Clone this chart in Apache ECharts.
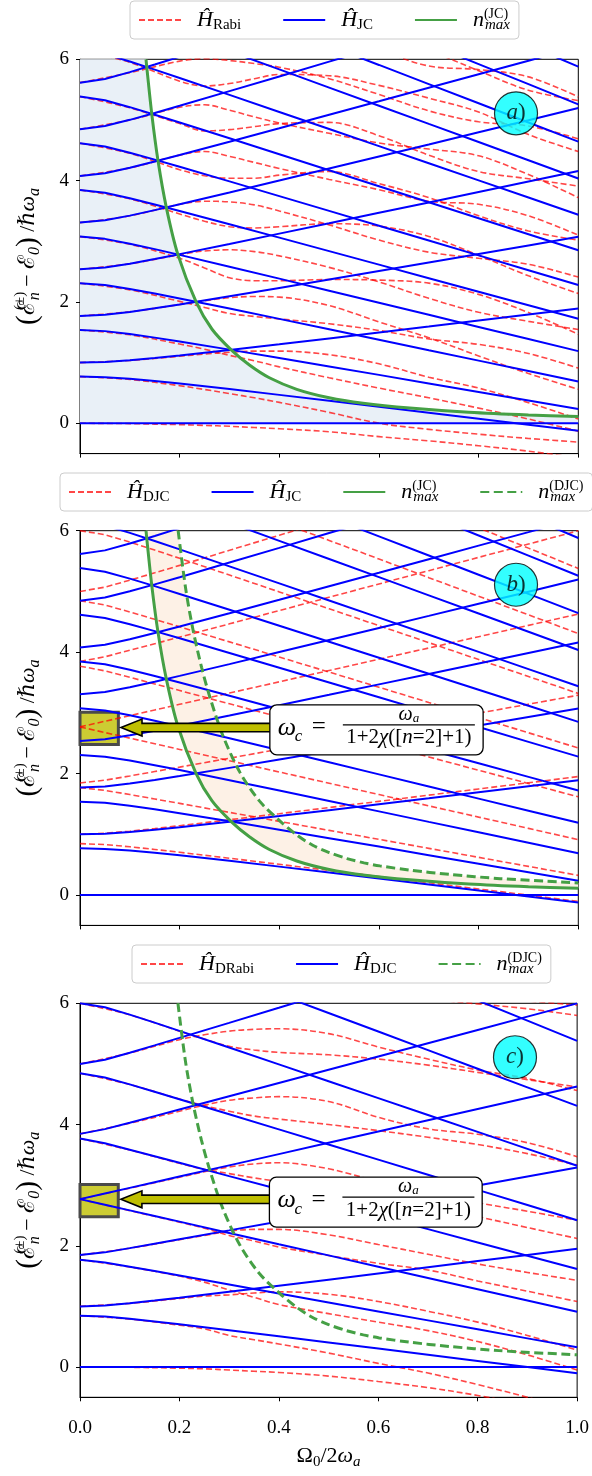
<!DOCTYPE html>
<html>
<head>
<meta charset="utf-8">
<title>Energy spectra</title>
<script src="https://cdn.jsdelivr.net/npm/echarts@6.0.0/dist/echarts.min.js"></script>
<style>
  html, body { margin: 0; padding: 0; background: #ffffff; }
  #chart { width: 592px; height: 1476px; }
</style>
</head>
<body>
<div id="chart"></div>
<script>
// Coupling values (Ω0 / 2ωa) at which the JC-type levels are sampled
const X_GRID = [0, 0.05, 0.1, 0.15, 0.2, 0.3, 0.4, 0.5, 0.6, 0.7, 0.8, 0.9, 1.0];

// Jaynes–Cummings doublets (panels a and b)
const JC_GROUND  = [0, 0, 0, 0, 0, 0, 0, 0, 0, 0, 0, 0, 0];
const JC_PLUS_1  = [1.000, 1.010, 1.037, 1.074, 1.116, 1.206, 1.301, 1.398, 1.496, 1.594, 1.693, 1.792, 1.891];
const JC_MINUS_1 = [0.769, 0.759, 0.732, 0.695, 0.654, 0.563, 0.468, 0.372, 0.274, 0.175, 0.076, -0.023, -0.122];
const JC_PLUS_2  = [1.769, 1.789, 1.836, 1.895, 1.959, 2.094, 2.231, 2.370, 2.510, 2.651, 2.791, 2.932, 3.073];
const JC_MINUS_2 = [1.538, 1.519, 1.471, 1.412, 1.348, 1.214, 1.077, 0.937, 0.798, 0.657, 0.517, 0.376, 0.235];
const JC_PLUS_3  = [2.538, 2.567, 2.631, 2.707, 2.788, 2.955, 3.126, 3.297, 3.469, 3.641, 3.814, 3.986, 4.159];
const JC_MINUS_3 = [2.308, 2.279, 2.215, 2.139, 2.058, 1.891, 1.721, 1.549, 1.378, 1.205, 1.033, 0.860, 0.687];
const JC_PLUS_4  = [3.308, 3.345, 3.423, 3.514, 3.609, 3.803, 4.001, 4.199, 4.398, 4.597, 4.797, 4.996, 5.196];
const JC_MINUS_4 = [3.077, 3.040, 2.961, 2.871, 2.776, 2.581, 2.384, 2.186, 1.987, 1.788, 1.588, 1.389, 1.189];
const JC_PLUS_5  = [4.077, 4.122, 4.213, 4.316, 4.423, 4.642, 4.863, 5.086, 5.308, 5.531, 5.754, 5.977, 6.201];
const JC_MINUS_5 = [3.846, 3.801, 3.710, 3.607, 3.500, 3.281, 3.060, 2.838, 2.615, 2.392, 2.169, 1.946, 1.723];
const JC_PLUS_6  = [4.846, 4.899, 5.002, 5.116, 5.234, 5.475, 5.717, 5.961, 6.205, 6.449, 6.694, 6.938, 7.183];
const JC_MINUS_6 = [4.615, 4.563, 4.460, 4.346, 4.228, 3.987, 3.744, 3.501, 3.257, 3.012, 2.768, 2.523, 2.279];
const JC_PLUS_7  = [5.615, 5.676, 5.789, 5.913, 6.042, 6.302, 6.565, 6.828, 7.092, 7.356, 7.620, 7.884, 8.148];
const JC_MINUS_7 = [5.385, 5.325, 5.211, 5.087, 4.958, 4.698, 4.435, 4.172, 3.908, 3.644, 3.380, 3.116, 2.852];
const JC_MINUS_8 = [6.154, 6.087, 5.964, 5.830, 5.692, 5.413, 5.132, 4.850, 4.568, 4.286, 4.004, 3.721, 3.438];
const JC_MINUS_9 = [6.923, 6.849, 6.717, 6.574, 6.428, 6.131, 5.833, 5.534, 5.235, 4.935, 4.636, 4.336, 4.036];
const JC_MINUS_10 = [7.692, 7.612, 7.471, 7.320, 7.165, 6.852, 6.538, 6.222, 5.907, 5.591, 5.275, 4.959, 4.643];
const JC_MINUS_11 = [8.462, 8.375, 8.226, 8.066, 7.904, 7.575, 7.245, 6.915, 6.584, 6.252, 5.921, 5.590, 5.258];
const JC_MINUS_12 = [9.231, 9.138, 8.981, 8.814, 8.644, 8.301, 7.956, 7.610, 7.265, 6.919, 6.573, 6.226, 5.880];

// Deformed Jaynes–Cummings doublets (red in panel b, blue in panel c)
const DJC_GROUND  = [0, 0, 0, 0, 0, 0, 0, 0, 0, 0, 0, 0, 0];
const DJC_PLUS_1  = [1.000, 1.016, 1.051, 1.095, 1.142, 1.240, 1.340, 1.441, 1.543, 1.645, 1.747, 1.849, 1.951];
const DJC_MINUS_1 = [0.846, 0.831, 0.795, 0.751, 0.704, 0.606, 0.506, 0.405, 0.304, 0.202, 0.100, -0.002, -0.105];
const DJC_PLUS_2  = [1.846, 1.891, 1.961, 2.034, 2.107, 2.254, 2.402, 2.550, 2.699, 2.847, 2.995, 3.143, 3.291];
const DJC_MINUS_2 = [1.769, 1.724, 1.655, 1.582, 1.509, 1.361, 1.213, 1.065, 0.917, 0.769, 0.621, 0.472, 0.324];
const DJC_PLUS_3  = [2.769, 2.862, 2.955, 3.048, 3.141, 3.326, 3.512, 3.698, 3.884, 4.069, 4.255, 4.441, 4.627];
const DJC_MINUS_3 = [2.769, 2.676, 2.584, 2.491, 2.398, 2.212, 2.026, 1.841, 1.655, 1.469, 1.283, 1.098, 0.912];
const DJC_PLUS_4  = [3.846, 3.924, 4.030, 4.139, 4.248, 4.466, 4.685, 4.904, 5.123, 5.342, 5.561, 5.780, 5.999];
const DJC_MINUS_4 = [3.769, 3.692, 3.585, 3.477, 3.368, 3.149, 2.931, 2.712, 2.493, 2.274, 2.055, 1.836, 1.617];
const DJC_PLUS_5  = [5.000, 5.070, 5.185, 5.306, 5.429, 5.677, 5.926, 6.176, 6.425, 6.675, 6.925, 7.174, 7.424];
const DJC_MINUS_5 = [4.846, 4.776, 4.662, 4.540, 4.417, 4.169, 3.920, 3.671, 3.421, 3.171, 2.922, 2.672, 2.422];
const DJC_MINUS_6 = [6.000, 5.934, 5.813, 5.681, 5.545, 5.270, 4.992, 4.714, 4.436, 4.157, 3.878, 3.599, 3.320];
const DJC_MINUS_7 = [7.231, 7.167, 7.041, 6.899, 6.751, 6.450, 6.145, 5.840, 5.534, 5.227, 4.921, 4.614, 4.307];
const DJC_MINUS_8 = [8.539, 8.476, 8.345, 8.193, 8.034, 7.709, 7.378, 7.047, 6.714, 6.380, 6.047, 5.713, 5.379];

// Coupling values at which the Rabi-type levels are sampled
const RABI_X = [0, 0.1, 0.2, 0.25, 0.3, 0.35, 0.4, 0.5, 0.6, 0.7, 0.8, 0.9, 1.0];

// Quantum Rabi levels (panel a)
const RABI_G  = [0, -0.006, -0.023, -0.035, -0.05, -0.07, -0.09, -0.14, -0.22, -0.29, -0.37, -0.46, -0.57];
const RABI_1M = [0.769, 0.722, 0.619, 0.557, 0.49, 0.42, 0.344, 0.18, 0.0, -0.10, -0.18, -0.25, -0.31];
const RABI_1P = [1.0, 1.036, 1.105, 1.14, 1.17, 1.19, 1.19, 1.13, 0.98, 0.76, 0.58, 0.34, 0.07];
const RABI_2M = [1.538, 1.458, 1.306, 1.22, 1.12, 1.03, 0.93, 0.75, 0.58, 0.42, 0.25, 0.07, -0.13];
const RABI_2P = [1.769, 1.838, 1.957, 2.02, 2.07, 2.09, 2.08, 1.94, 1.67, 1.41, 1.11, 0.82, 0.56];
const RABI_3M = [2.308, 2.199, 2.009, 1.91, 1.81, 1.76, 1.72, 1.64, 1.53, 1.39, 1.30, 1.15, 0.91];
const RABI_3P = [2.538, 2.63, 2.78, 2.84, 2.86, 2.83, 2.76, 2.57, 2.33, 2.06, 1.83, 1.68, 1.545];
const RABI_4M = [3.077, 2.95, 2.72, 2.56, 2.40, 2.35, 2.35, 2.37, 2.36, 2.31, 2.125, 1.825, 1.469];
const RABI_4P = [3.308, 3.42, 3.61, 3.66, 3.65, 3.60, 3.50, 3.27, 3.02, 2.82, 2.72, 2.62, 2.41];
const RABI_5M = [3.846, 3.70, 3.45, 3.33, 3.24, 3.22, 3.24, 3.29, 3.25, 3.08, 2.77, 2.43, 2.14];
const RABI_5P = [4.077, 4.21, 4.42, 4.48, 4.40, 4.30, 4.20, 4.02, 3.85, 3.66, 3.61, 3.42, 3.10];
const RABI_6M = [4.615, 4.45, 4.18, 4.08, 4.04, 4.04, 4.09, 4.15, 3.95, 3.72, 3.42, 3.17, 3.02];
const RABI_6P = [4.846, 5.00, 5.21, 5.25, 5.16, 5.05, 4.95, 4.78, 4.62, 4.52, 4.41, 4.10, 3.72];
const RABI_7M = [5.385, 5.20, 4.94, 4.82, 4.84, 4.89, 4.94, 4.96, 4.74, 4.42, 4.15, 4.03, 3.91];
const RABI_7P = [5.615, 5.78, 5.97, 6.01, 5.98, 5.93, 5.87, 5.68, 5.42, 5.15, 4.97, 4.90, 4.69];
const RABI_8M = [6.154, 5.95, 5.64, 5.56, 5.60, 5.68, 5.75, 5.73, 5.57, 5.36, 5.13, 4.76, 4.48];
const RABI_8P = [6.38, 6.6, 6.9, 7.0, 7.0, 6.95, 6.85, 6.6, 6.35, 6.14, 5.81, 5.49, 5.32];
const RABI_9M = [6.92, 6.72, 6.45, 6.4, 6.5, 6.55, 6.55, 6.4, 6.15, 5.89, 5.83, 5.71, 5.38];

// Deformed Rabi levels (panel c)
const DRABI_G  = [0, -0.005, -0.02, -0.03, -0.05, -0.07, -0.09, -0.15, -0.24, -0.34, -0.47, -0.63, -0.80];
const DRABI_1M = [0.846, 0.79, 0.69, 0.63, 0.52, 0.45, 0.38, 0.23, 0.06, -0.10, -0.29, -0.50, -0.72];
const DRABI_1P = [1.0, 1.05, 1.13, 1.17, 1.19, 1.22, 1.24, 1.20, 1.08, 0.92, 0.74, 0.52, 0.28];
const DRABI_2M = [1.769, 1.65, 1.50, 1.40, 1.27, 1.15, 1.03, 0.88, 0.74, 0.60, 0.42, 0.20, -0.05];
const DRABI_2P = [1.846, 1.96, 2.10, 2.17, 2.24, 2.27, 2.27, 2.18, 2.02, 1.86, 1.70, 1.56, 1.43];
const DRABI_3M = [2.769, 2.58, 2.39, 2.29, 2.17, 2.08, 1.98, 1.84, 1.71, 1.60, 1.42, 1.25, 1.08];
const DRABI_3P = [2.769, 2.95, 3.13, 3.22, 3.30, 3.35, 3.37, 3.27, 3.06, 2.88, 2.71, 2.57, 2.42];
const DRABI_4M = [3.769, 3.58, 3.36, 3.26, 3.19, 3.12, 3.06, 2.93, 2.78, 2.65, 2.48, 2.30, 2.12];
const DRABI_4P = [3.846, 4.02, 4.22, 4.32, 4.40, 4.44, 4.46, 4.38, 4.12, 3.93, 3.84, 3.70, 3.47];
const DRABI_5M = [4.846, 4.66, 4.42, 4.31, 4.22, 4.14, 4.09, 4.00, 3.90, 3.79, 3.67, 3.52, 3.33];
const DRABI_5P = [5.0, 5.18, 5.40, 5.48, 5.54, 5.57, 5.58, 5.50, 5.28, 5.08, 4.90, 4.76, 4.56];
const DRABI_6M = [6.0, 5.81, 5.54, 5.41, 5.29, 5.23, 5.19, 5.15, 5.08, 4.98, 4.86, 4.74, 4.62];
const DRABI_7M = [7.23, 7.04, 6.75, 6.6, 6.45, 6.35, 6.28, 6.2, 6.14, 6.07, 5.99, 5.91, 5.80];
const DRABI_8M = [8.54, 8.3, 8.0, 7.85, 7.7, 7.5, 7.35, 7.05, 6.7, 6.38, 6.14, 6.04, 5.97];

// Photon-number bound curves
const NMAX_JC_X  = [0.1325, 0.134, 0.144, 0.1565, 0.1732, 0.1965, 0.233, 0.265, 0.3035, 0.34, 0.38, 0.435, 0.5, 0.568, 0.662, 0.78, 0.9, 1.0];
const NMAX_JC_Y  = [6.0, 5.87, 5.10, 4.33, 3.56, 2.78, 2.00, 1.55, 1.21, 0.96, 0.75, 0.56, 0.42, 0.33, 0.25, 0.18, 0.135, 0.11];
const NMAX_DJC_X = [0.197, 0.212, 0.227, 0.244, 0.261, 0.287, 0.321, 0.36, 0.401, 0.435, 0.467, 0.5, 0.536, 0.57, 0.602, 0.662, 0.742, 0.843, 1.0];
const NMAX_DJC_Y = [6.0, 5.05, 4.36, 3.75, 3.25, 2.62, 2.02, 1.55, 1.22, 0.99, 0.82, 0.70, 0.60, 0.53, 0.48, 0.41, 0.34, 0.27, 0.20];

// Annotation anchors (data coordinates)
const BOX_X = [0, 0.077];
const BOX_Y = [2.48, 3.01];
const ARROW_TIP_B = [0.0823, 2.758];
const ARROW_TIP_C = [0.0823, 2.766];
const NOTE_X = [0.381, 0.809];
const NOTE_Y = 2.72;
const TAG_POS = [0.875, 5.11];
const TAGS = ['a', 'b', 'c'];

const JC_LINES = [JC_GROUND, JC_PLUS_1, JC_MINUS_1, JC_PLUS_2, JC_MINUS_2, JC_PLUS_3, JC_MINUS_3,
  JC_PLUS_4, JC_MINUS_4, JC_PLUS_5, JC_MINUS_5, JC_PLUS_6, JC_MINUS_6, JC_PLUS_7, JC_MINUS_7,
  JC_MINUS_8, JC_MINUS_9, JC_MINUS_10, JC_MINUS_11, JC_MINUS_12];
const DJC_LINES = [DJC_GROUND, DJC_PLUS_1, DJC_MINUS_1, DJC_PLUS_2, DJC_MINUS_2, DJC_PLUS_3, DJC_MINUS_3,
  DJC_PLUS_4, DJC_MINUS_4, DJC_PLUS_5, DJC_MINUS_5, DJC_MINUS_6, DJC_MINUS_7, DJC_MINUS_8];
const RABI_LINES = [RABI_G, RABI_1M, RABI_1P, RABI_2M, RABI_2P, RABI_3M, RABI_3P, RABI_4M, RABI_4P,
  RABI_5M, RABI_5P, RABI_6M, RABI_6P, RABI_7M, RABI_7P, RABI_8M, RABI_8P, RABI_9M];
const DRABI_LINES = [DRABI_G, DRABI_1M, DRABI_1P, DRABI_2M, DRABI_2P, DRABI_3M, DRABI_3P, DRABI_4M,
  DRABI_4P, DRABI_5M, DRABI_5P, DRABI_6M, DRABI_7M, DRABI_8M];

const SERIF = "'Liberation Serif', 'DejaVu Serif', serif";
const BLUE = '#0000ff';
const RED = 'rgba(255, 0, 0, 0.72)';
const GREEN = '#45a045';

const BLUE_STYLE = { color: BLUE, width: 2 };
const RED_STYLE = { color: RED, width: 1.6, type: [6, 3] };
const GREEN_STYLE = { color: GREEN, width: 3 };
const GREEN_DASH = { color: GREEN, width: 3, type: [9, 4.5] };

function pairs(xs, ys) { return xs.map((x, i) => [x, ys[i]]); }

function curve(name, g, xs, ys, lineStyle, z, smooth) {
  return {
    type: 'line', name, xAxisIndex: g, yAxisIndex: g,
    data: pairs(xs, ys), symbol: 'none', showSymbol: false,
    smooth: smooth || false, clip: true,
    lineStyle, itemStyle: { color: lineStyle.color }, z, silent: true, animation: false
  };
}

const series = [];

// panel a: shaded region below the JC bound
series.push({
  type: 'custom', xAxisIndex: 0, yAxisIndex: 0, data: [[0, 0]], z: 1, silent: true,
  renderItem(params, api) {
    const pts = [api.coord([0, 0]), api.coord([0, 6])];
    NMAX_JC_X.forEach((x, i) => pts.push(api.coord([x, NMAX_JC_Y[i]])));
    pts.push(api.coord([1, 0]));
    return { type: 'polygon', shape: { points: pts }, style: { fill: '#e9f0f7' } };
  }
});
// panel b: band between the two bounds
series.push({
  type: 'custom', xAxisIndex: 1, yAxisIndex: 1, data: [[0, 0]], z: 1, silent: true,
  renderItem(params, api) {
    const pts = [];
    NMAX_JC_X.forEach((x, i) => pts.push(api.coord([x, NMAX_JC_Y[i]])));
    for (let i = NMAX_DJC_X.length - 1; i >= 0; i--) pts.push(api.coord([NMAX_DJC_X[i], NMAX_DJC_Y[i]]));
    return { type: 'polygon', shape: { points: pts }, style: { fill: '#fdf1e6' } };
  }
});

// resonance marker boxes (b, c)
[1, 2].forEach(g => series.push({
  type: 'line', name: 'marker' + g, xAxisIndex: g, yAxisIndex: g, data: [], z: 1, silent: true,
  markArea: {
    silent: true,
    itemStyle: { color: 'rgba(191,191,0,0.8)', borderColor: '#4a4a4a', borderWidth: 3 },
    data: [[{ xAxis: BOX_X[0], yAxis: BOX_Y[0] }, { xAxis: BOX_X[1], yAxis: BOX_Y[1] }]]
  }
}));

// red dashed families
RABI_LINES.forEach(ys => series.push(curve('a_rabi', 0, RABI_X, ys, RED_STYLE, 2, 0.35)));
DJC_LINES.forEach(ys => series.push(curve('b_djc', 1, X_GRID, ys, RED_STYLE, 2)));
DRABI_LINES.forEach(ys => series.push(curve('c_drabi', 2, RABI_X, ys, RED_STYLE, 2, 0.35)));

// blue families
JC_LINES.forEach(ys => {
  series.push(curve('ab_jc', 0, X_GRID, ys, BLUE_STYLE, 3));
  series.push(curve('ab_jc', 1, X_GRID, ys, BLUE_STYLE, 3));
});
DJC_LINES.forEach(ys => series.push(curve('c_djc', 2, X_GRID, ys, BLUE_STYLE, 3)));

// bounds
series.push(curve('nmax_jc', 0, NMAX_JC_X, NMAX_JC_Y, GREEN_STYLE, 4, 0.3));
series.push(curve('nmax_jc', 1, NMAX_JC_X, NMAX_JC_Y, GREEN_STYLE, 4, 0.3));
series.push(curve('nmax_djc', 1, NMAX_DJC_X, NMAX_DJC_Y, GREEN_DASH, 4, 0.3));
series.push(curve('nmax_djc', 2, NMAX_DJC_X, NMAX_DJC_Y, GREEN_DASH, 4, 0.3));

// panel tags
TAGS.forEach((t, g) => series.push({
  type: 'scatter', name: 'tag' + g, xAxisIndex: g, yAxisIndex: g, data: [TAG_POS],
  symbol: 'circle', symbolSize: 43, z: 6, silent: true, animation: false,
  itemStyle: { color: '#00ffff', borderColor: '#000', borderWidth: 1.2 },
  label: {
    show: true, position: 'inside', formatter: '{i|' + t + '}{r|)}',
    rich: {
      i: { fontFamily: SERIF, fontStyle: 'italic', fontSize: 23, color: '#000' },
      r: { fontFamily: SERIF, fontSize: 23, color: '#000' }
    }
  }
}));

const LEGEND_RICH = {
  g: { width: 11, fontSize: 20, lineHeight: 26 },
  h: { fontFamily: SERIF, fontStyle: 'italic', fontSize: 22, lineHeight: 26, color: '#000' },
  ni: { fontFamily: SERIF, fontStyle: 'italic', fontSize: 22, lineHeight: 26, color: '#000' },
  sb: { fontFamily: SERIF, fontSize: 15, lineHeight: 15, verticalAlign: 'bottom', color: '#000' },
  si: { fontFamily: SERIF, fontStyle: 'italic', fontSize: 15, lineHeight: 15, verticalAlign: 'bottom', color: '#000' },
  sp: { fontFamily: SERIF, fontSize: 14, lineHeight: 14, verticalAlign: 'top', width: 1, color: '#000' },
  pad: { width: 9, fontSize: 14 }
};
const LEGEND_TEXT = {
  a_rabi: '{g| }{h|Ĥ}{sb|Rabi}',
  ab_jc: '{g| }{h|Ĥ}{sb|JC}',
  nmax_jc: '{g| }{ni|n}{sp|(JC)}{si|max}',
  b_djc: '{g| }{h|Ĥ}{sb|DJC}',
  nmax_djc: '{g| }{ni|n}{sp|(DJC)}{si|max}{pad| }',
  c_drabi: '{g| }{h|Ĥ}{sb|DRabi}',
  c_djc: '{g| }{h|Ĥ}{sb|DJC}'
};
function legend(left, top, names) {
  return {
    left, top, orient: 'horizontal', width: 700,
    itemWidth: 42, itemHeight: 14, itemGap: 41, padding: [6, 9, 6, 8],
    backgroundColor: '#fff', borderColor: '#cccccc', borderWidth: 1, borderRadius: 4,
    selectedMode: false, data: names,
    itemStyle: { opacity: 0 },
    formatter: n => LEGEND_TEXT[n],
    textStyle: { rich: LEGEND_RICH, color: '#000' }
  };
}

const YNAME = '{bp|(}{e|ℰ}{ys|(±)}{yb|n}{ym| − }{e|ℰ}{yb|0}{bp|)}{ym| /ℏ}{yw|ω}{yb|a}';
const YRICH = {
  bp: { fontFamily: SERIF, fontSize: 29, lineHeight: 30, color: '#000' },
  e: { fontFamily: SERIF, fontSize: 23, lineHeight: 30, color: '#000' },
  ym: { fontFamily: SERIF, fontSize: 22, lineHeight: 30, color: '#000' },
  yw: { fontFamily: SERIF, fontStyle: 'italic', fontSize: 22, lineHeight: 30, color: '#000' },
  ys: { fontFamily: SERIF, fontSize: 15, lineHeight: 15, verticalAlign: 'top', width: 1, color: '#000' },
  yb: { fontFamily: SERIF, fontStyle: 'italic', fontSize: 16, lineHeight: 16, verticalAlign: 'bottom', color: '#000' }
};
const XNAME = '{w|Ω}{s|0}{w|/2}{wi|ω}{si|a}';
const XRICH = {
  w: { fontFamily: SERIF, fontSize: 22, lineHeight: 26, color: '#000' },
  wi: { fontFamily: SERIF, fontStyle: 'italic', fontSize: 22, lineHeight: 26, color: '#000' },
  s: { fontFamily: SERIF, fontSize: 15, lineHeight: 15, verticalAlign: 'bottom', color: '#000' },
  si: { fontFamily: SERIF, fontStyle: 'italic', fontSize: 15, lineHeight: 15, verticalAlign: 'bottom', color: '#000' }
};

const GRIDS = [
  { left: 80, top: 59.3, width: 498.3, height: 394.3 },
  { left: 80, top: 530.7, width: 498.3, height: 394.7 },
  { left: 80, top: 1003.3, width: 498.3, height: 394.0 }
];

const option = {
  backgroundColor: '#ffffff',
  animation: false,
  grid: GRIDS.map(g => Object.assign({ show: true, borderColor: '#000', borderWidth: 1, backgroundColor: 'transparent', containLabel: false }, g)),
  legend: [
    legend(130, 1, ['a_rabi', 'ab_jc', 'nmax_jc']),
    legend(60, 473, ['b_djc', 'ab_jc', 'nmax_jc', 'nmax_djc']),
    legend(132, 945, ['c_drabi', 'c_djc', 'nmax_djc'])
  ],
  xAxis: [0, 1, 2].map(i => ({
    type: 'value', gridIndex: i, min: 0, max: 1, interval: 0.2,
    axisLine: { show: true, onZero: false, lineStyle: { color: '#000', width: 1 } },
    axisTick: { show: true, length: 4, lineStyle: { color: '#000', width: 1 } },
    axisLabel: { show: i === 2, margin: 21, fontFamily: SERIF, fontSize: 19, color: '#000', formatter: v => v.toFixed(1) },
    splitLine: { show: false },
    name: i === 2 ? XNAME : '', nameLocation: 'middle', nameGap: 46,
    nameTextStyle: { rich: XRICH }
  })),
  yAxis: [0, 1, 2].map(i => ({
    type: 'value', gridIndex: i, min: -0.5, max: 6,
    axisLine: { show: true, onZero: false, lineStyle: { color: '#000', width: 1 } },
    axisTick: { show: true, length: 4, customValues: [0, 2, 4, 6], lineStyle: { color: '#000', width: 1 } },
    axisLabel: { show: true, margin: 11, customValues: [0, 2, 4, 6], fontFamily: SERIF, fontSize: 19, color: '#000' },
    splitLine: { show: false },
    name: YNAME, nameLocation: 'middle', nameRotate: 90, nameGap: 37,
    nameTextStyle: { rich: YRICH }
  })),
  series
};

const chart = echarts.init(document.getElementById('chart'), null, { renderer: 'canvas' });
chart.setOption(option);

// arrows and formula boxes pointing at the resonance marker
const NOTE_RICH = {
  w: { fontFamily: SERIF, fontStyle: 'italic', fontSize: 20, lineHeight: 20, color: '#000' },
  s: { fontFamily: SERIF, fontStyle: 'italic', fontSize: 13, lineHeight: 12, verticalAlign: 'bottom', color: '#000' },
  r: { fontFamily: SERIF, fontSize: 21, lineHeight: 20, color: '#000' },
  i: { fontFamily: SERIF, fontStyle: 'italic', fontSize: 21, lineHeight: 20, color: '#000' }
};
function note(g, tipData) {
  const tip = chart.convertToPixel({ gridIndex: g }, tipData);
  const a = chart.convertToPixel({ gridIndex: g }, [NOTE_X[0], NOTE_Y]);
  const b = chart.convertToPixel({ gridIndex: g }, [NOTE_X[1], NOTE_Y]);
  const L = a[0], R = b[0], Y = a[1], T = Y - 25;
  const tx = tip[0], ty = tip[1], hx = tx + 21;
  return [
    {
      type: 'polygon', z: 100,
      shape: { points: [[tx, ty], [hx, ty - 8.5], [hx, ty - 4.2], [L + 4, ty - 4.2], [L + 4, ty + 4.2], [hx, ty + 4.2], [hx, ty + 8.5]] },
      style: { fill: '#bfbf00', stroke: '#000', lineWidth: 1.6 }
    },
    { type: 'rect', z: 101, shape: { x: L, y: T, width: R - L, height: 50, r: 7 }, style: { fill: '#fff', stroke: '#000', lineWidth: 1.3 } },
    { type: 'text', z: 102, x: L + 8, y: Y - 2, style: { text: 'ω', font: 'italic 26px ' + SERIF, fill: '#000', verticalAlign: 'middle' } },
    { type: 'text', z: 102, x: L + 25, y: Y + 7, style: { text: 'c', font: 'italic 17px ' + SERIF, fill: '#000', verticalAlign: 'middle' } },
    { type: 'text', z: 102, x: L + 42, y: Y - 2, style: { text: '=', font: '25px ' + SERIF, fill: '#000', verticalAlign: 'middle' } },
    { type: 'line', z: 102, shape: { x1: L + 73, y1: Y - 5, x2: L + 205, y2: Y - 5 }, style: { stroke: '#000', lineWidth: 1.2 } },
    { type: 'text', z: 102, x: L + 139, y: Y - 15, style: { text: '{w|ω}{s|a}', rich: NOTE_RICH, align: 'center', verticalAlign: 'middle' } },
    { type: 'text', z: 102, x: L + 139, y: Y + 8, style: { text: '{r|1+2}{i|χ}{r|([}{i|n}{r|=2]+1)}', rich: NOTE_RICH, align: 'center', verticalAlign: 'middle' } }
  ];
}
chart.setOption({ graphic: { elements: note(1, ARROW_TIP_B).concat(note(2, ARROW_TIP_C)) } });
</script>
</body>
</html>
